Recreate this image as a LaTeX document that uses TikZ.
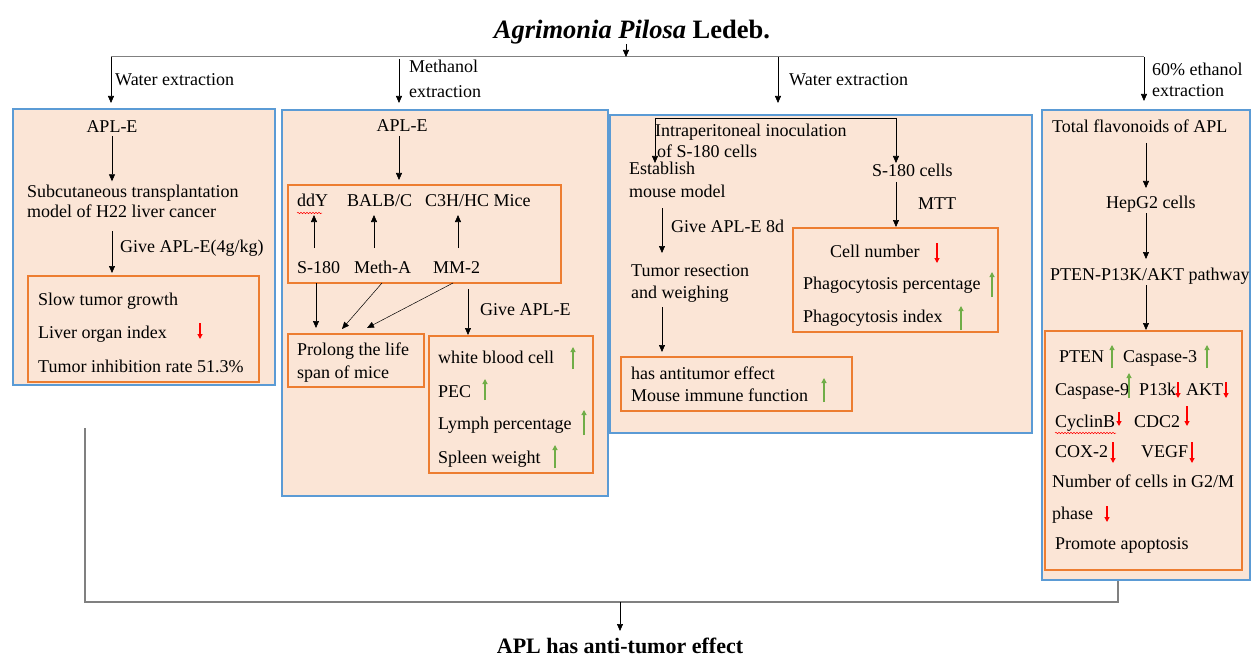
\documentclass[tikz,border=0pt]{standalone}
\usepackage{fontspec}
\setmainfont{Liberation Serif}
\usetikzlibrary{arrows.meta,fit,decorations.pathmorphing}
\definecolor{peach}{HTML}{FBE5D6}
\definecolor{boxblue}{HTML}{5B9BD5}
\definecolor{boxorange}{HTML}{ED7D31}
\definecolor{upgreen}{HTML}{70AD47}
\definecolor{dnred}{HTML}{FF0000}
\definecolor{lngray}{HTML}{808080}
\newcommand\txtsize{\fontsize{18}{21}\selectfont}
\tikzset{
  bluebox/.style={draw=boxblue, fill=peach, line width=1.4pt, inner sep=0pt},
  orbox/.style={draw=boxorange, line width=1.3pt, inner sep=0pt},
  tl/.style={anchor=base west, inner xsep=0pt, inner ysep=3pt, font=\txtsize},
  tc/.style={anchor=base, inner xsep=0pt, inner ysep=3pt, font=\txtsize},
  arr/.style={draw=black, line width=0.7pt, -{Triangle[length=7pt,width=6pt]}},
  gline/.style={draw=lngray, line width=1pt},
  upa/.style={draw=upgreen, line width=1.1pt, -{Triangle[length=5pt,width=5pt]}},
  dna/.style={draw=dnred, line width=1.1pt, -{Triangle[length=5pt,width=5pt]}},
  squig/.style={draw=dnred, line width=0.5pt, decorate, decoration={snake, amplitude=0.7pt, segment length=3pt}}
}
\begin{document}
\begin{tikzpicture}[x=1pt,y=-1pt]
\useasboundingbox (0,0) rectangle (1251,658);

% ---------- title and distribution ----------
\node[inner sep=0pt, font=\fontsize{26.5}{30}\selectfont\bfseries] (title) at (632,32) {\textit{Agrimonia Pilosa} Ledeb.};
\coordinate (hub) at (626,57);
\coordinate (hL) at (111,57);
\coordinate (hR) at (1144,57);
\coordinate (tA) at (626,44);
\draw[gline] (hL) -- (hR);
\draw[arr] (tA) -- (hub);
\coordinate (d1) at (111,103);
\coordinate (d2a) at (399,59);
\coordinate (d2) at (399,103);
\coordinate (d3a) at (778,57);
\coordinate (d3) at (778,103);
\coordinate (d4) at (1144,101);
\draw[arr] (hL) -- (d1);
\draw[arr] (d2a) -- (d2);
\draw[arr] (d3a) -- (d3);
\draw[arr] (hR) -- (d4);
\node[tl] (l1) at (115,86) {Water extraction};
\node[tl] (l2a) at (409,73) {Methanol};
\node[tl] (l2b) at (409,98) {extraction};
\node[tl] (l3) at (789,86) {Water extraction};
\node[tl] (l4a) at (1152,76) {60\% ethanol};
\node[tl] (l4b) at (1152,97) {extraction};

% ---------- box A ----------
\node[bluebox, fit={(13,109)(275,385)}] (bA) {};
\node[orbox, fit={(28,276)(259,382)}] (aO) {};
\node[tc] (aApl) at (112,133) {APL-E};
\node[tl] (aS1) at (27,197) {Subcutaneous transplantation};
\node[tl] (aS2) at (27,218) {model of H22 liver cancer};
\node[tl] (aGive) at (120,252) {Give APL-E(4g/kg)};
\node[tl] (aL1) at (38,305) {Slow tumor growth};
\node[tl] (aL2) at (38,338) {Liver organ index};
\node[tl] (aL3) at (38,372) {Tumor inhibition rate 51.3\%};
\draw[arr] (aApl.south) -- (aApl.south |- aS1.north);
\coordinate (aA2s) at (112,231);
\coordinate (aA2e) at (112,273);
\draw[arr] (aA2s) -- (aA2e);
\draw[dna] (200,323) -- (200,339);

% ---------- box B ----------
\node[bluebox, fit={(282,110)(608,496)}] (bB) {};
\node[orbox, fit={(288,185)(561,283)}] (bO1) {};
\node[orbox, fit={(288,334)(424,387)}] (bO2) {};
\node[orbox, fit={(429,336)(593,473)}] (bO3) {};
\node[tc] (bApl) at (402,132) {APL-E};
\coordinate (bA1s) at (399,136);
\coordinate (bA1e) at (399,180);
\draw[arr] (bA1s) -- (bA1e);
\node[tl] (bddy) at (297,207) {ddY};
\draw[squig] (297,213) -- (322,213);
\node[tl] (bbalb) at (347,207) {BALB/C};
\node[tl] (bc3h) at (425,207) {C3H/HC Mice};
\node[tl] (bs180) at (297,273) {S-180};
\node[tl] (bmeth) at (354,273) {Meth-A};
\node[tl] (bmm) at (433,273) {MM-2};
\coordinate (bu1s) at (314,248); \coordinate (bu1e) at (314,215);
\coordinate (bu2s) at (374,248); \coordinate (bu2e) at (374,215);
\coordinate (bu3s) at (458,248); \coordinate (bu3e) at (458,215);
\draw[arr] (bu1s) -- (bu1e);
\draw[arr] (bu2s) -- (bu2e);
\draw[arr] (bu3s) -- (bu3e);
\coordinate (bd1s) at (316,283); \coordinate (bd1e) at (316,328);
\coordinate (bd2s) at (382,283); \coordinate (bd2e) at (342,329);
\coordinate (bd3s) at (453,283); \coordinate (bd3e) at (367,328);
\coordinate (bd4s) at (468,289); \coordinate (bd4e) at (468,335);
\draw[arr] (bd1s) -- (bd1e);
\draw[arr, line width=0.5pt] (bd2s) -- (bd2e);
\draw[arr, line width=0.5pt] (bd3s) -- (bd3e);
\draw[arr] (bd4s) -- (bd4e);
\node[tl] (bGive) at (480,315) {Give APL-E};
\node[tl] (bP1) at (297,355) {Prolong the life};
\node[tl] (bP2) at (297,378) {span of mice};
\node[tl] (bW1) at (438,363) {white blood cell};
\node[tl] (bW2) at (438,397) {PEC};
\node[tl] (bW3) at (438,429) {Lymph percentage};
\node[tl] (bW4) at (438,463) {Spleen weight};
\draw[upa] (573,369) -- (573,347);
\draw[upa] (485,400) -- (485,379);
\draw[upa] (584,435) -- (584,410);
\draw[upa] (555,468) -- (555,445);

% ---------- box C ----------
\node[bluebox, fit={(610,115)(1032,433)}] (bC) {};
\node[orbox, fit={(621,357)(852,411)}] (cO1) {};
\node[orbox, fit={(793,228)(998,332)}] (cO2) {};
\coordinate (cbL) at (655,118);
\coordinate (cbR) at (896,118);
\coordinate (cbLe) at (655,163);
\coordinate (cbRe) at (896,163);
\draw[line width=0.7pt] (cbL) -- (cbR);
\draw[arr] (cbL) -- (cbLe);
\draw[arr] (cbR) -- (cbRe);
\node[tl] (cI1) at (655,137) {Intraperitoneal inoculation};
\node[tl] (cI2) at (657,158) {of S-180 cells};
\node[tl] (cE1) at (629,175) {Establish};
\node[tl] (cE2) at (629,197) {mouse model};
\coordinate (cA1s) at (662,208); \coordinate (cA1e) at (662,253);
\draw[arr] (cA1s) -- (cA1e);
\node[tl] (cGive) at (671,232) {Give APL-E 8d};
\node[tl] (cT1) at (631,276) {Tumor resection};
\node[tl] (cT2) at (631,298) {and weighing};
\coordinate (cA2s) at (662,307); \coordinate (cA2e) at (662,352);
\draw[arr] (cA2s) -- (cA2e);
\node[tl] (cH1) at (631,379) {has antitumor effect};
\node[tl] (cH2) at (631,401) {Mouse immune function};
\draw[upa] (824,402) -- (824,378);
\node[tl] (cS) at (872,176) {S-180 cells};
\coordinate (cA3s) at (896,182); \coordinate (cA3e) at (896,227);
\draw[arr] (cA3s) -- (cA3e);
\node[tl] (cMTT) at (918,210) {MTT};
\node[tl] (cC1) at (830,257) {Cell number};
\draw[dna] (937,243) -- (937,263);
\node[tl] (cC2) at (803,289) {Phagocytosis percentage};
\draw[upa] (992,297) -- (992,272);
\node[tl] (cC3) at (803,322) {Phagocytosis index};
\draw[upa] (961,330) -- (961,306);

% ---------- box D ----------
\node[bluebox, fit={(1042,110)(1250,580)}] (bD) {};
\node[orbox, fit={(1045,331)(1242,570)}] (dO) {};
\node[tl] (dT) at (1052,133) {Total flavonoids of APL};
\coordinate (dA1s) at (1146,143); \coordinate (dA1e) at (1146,188);
\draw[arr] (dA1s) -- (dA1e);
\node[tl] (dH) at (1106,208) {HepG2 cells};
\coordinate (dA2s) at (1146,213); \coordinate (dA2e) at (1146,259);
\draw[arr] (dA2s) -- (dA2e);
\node[tl] (dP) at (1050,280) {PTEN-P13K/AKT pathway};
\coordinate (dA3s) at (1146,285); \coordinate (dA3e) at (1146,330);
\draw[arr] (dA3s) -- (dA3e);
\node[tl] (dR1a) at (1059,362) {PTEN};
\draw[upa] (1112,368) -- (1112,345);
\node[tl] (dR1b) at (1123,362) {Caspase-3};
\draw[upa] (1207,368) -- (1207,345);
\node[tl] (dR2a) at (1055,395) {Caspase-9};
\draw[upa] (1129,398) -- (1129,373);
\node[tl] (dR2b) at (1139,395) {P13k};
\draw[dna] (1178,382) -- (1178,398);
\node[tl] (dR2c) at (1186,395) {AKT};
\draw[dna] (1226,382) -- (1226,398);
\node[tl] (dR3a) at (1055,427) {CyclinB};
\draw[squig] (1055,433) -- (1116,433);
\draw[dna] (1119,412) -- (1119,426);
\node[tl] (dR3b) at (1134,427) {CDC2};
\draw[dna] (1187,406) -- (1187,426);
\node[tl] (dR4a) at (1055,457) {COX-2};
\draw[dna] (1113,442) -- (1113,463);
\node[tl] (dR4b) at (1141,457) {VEGF};
\draw[dna] (1192,442) -- (1192,463);
\node[tl] (dN) at (1052,487) {Number of cells in G2/M};
\node[tl] (dPh) at (1052,519) {phase};
\draw[dna] (1107,506) -- (1107,522);
\node[tl] (dPa) at (1055,549) {Promote apoptosis};

% ---------- bottom ----------
\coordinate (bl0) at (85,428);
\coordinate (bl1) at (85,602);
\coordinate (br1) at (1118,602);
\coordinate (br0) at (1118,581);
\coordinate (bmid) at (620,602);
\draw[gline, line width=1.4pt] (bl0) -- (bl1) -- (br1) -- (br0);
\node[inner sep=0pt, anchor=base, font=\fontsize{22}{25}\selectfont\bfseries] (res) at (620,653) {APL has anti-tumor effect};
\coordinate (bend) at (620,631);
\draw[arr] (bmid) -- (bend);
\end{tikzpicture}
\end{document}
